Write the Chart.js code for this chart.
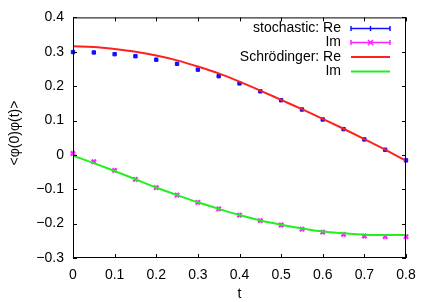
<!DOCTYPE html>
<html>
<head>
<meta charset="utf-8">
<script src="https://cdn.jsdelivr.net/npm/chart.js@4"></script>
<style>
  html, body { margin: 0; padding: 0; background: #fff; }
  #chart { display: block; }
</style>
</head>
<body>
<canvas id="chart" width="431" height="302"></canvas>
<script>
// time grid (same for both methods)
const tValues = [0, 0.05, 0.1, 0.15, 0.2, 0.25, 0.3, 0.35, 0.4, 0.45, 0.5, 0.55, 0.6, 0.65, 0.7, 0.75, 0.8];

// stochastic estimates
const stochRe = [0.299, 0.298, 0.293, 0.287, 0.277, 0.265, 0.248, 0.229, 0.208, 0.185, 0.159, 0.132, 0.103, 0.075, 0.045, 0.015, -0.016];
const stochIm = [0.004, -0.020, -0.045, -0.071, -0.095, -0.117, -0.138, -0.157, -0.175, -0.191, -0.204, -0.216, -0.225, -0.231, -0.236, -0.238, -0.238];

// Schrödinger (exact) curves
const schrRe = [0.316, 0.314, 0.308, 0.300, 0.289, 0.275, 0.257, 0.237, 0.213, 0.187, 0.160, 0.133, 0.105, 0.076, 0.046, 0.015, -0.017];
const schrIm = [-0.002, -0.024, -0.047, -0.071, -0.095, -0.117, -0.138, -0.157, -0.175, -0.191, -0.203, -0.214, -0.223, -0.228, -0.232, -0.233, -0.233];

const xTicks = [0, 0.1, 0.2, 0.3, 0.4, 0.5, 0.6, 0.7, 0.8];
const yTicks = [-0.3, -0.2, -0.1, 0, 0.1, 0.2, 0.3, 0.4];

const legendLabels = ["stochastic: Re", "Im", "Schrödinger: Re", "Im"];
const seriesColors = ["#1010ff", "#ff20ff", "#ff2020", "#20f020"];

const FONT = "Liberation Sans, Arial, sans-serif";

function toPoints(xs, ys) {
  return xs.map((x, i) => ({ x: x, y: ys[i] }));
}

function fmt(v) {
  if (Math.abs(v) < 1e-9) return "0";
  return v.toFixed(1).replace("-", "\u2212");
}

// frame with inward ticks on all four sides, axis titles, key
const framePlugin = {
  id: "frame",
  afterDatasetsDraw(chart) {
    const ctx = chart.ctx;
    const a = chart.chartArea;
    const xs = chart.scales.x;
    const ys = chart.scales.y;
    const tick = 4;
    ctx.save();
    ctx.strokeStyle = "#000";
    ctx.lineWidth = 1;
    ctx.beginPath();
    xTicks.forEach(v => {
      const px = Math.round(xs.getPixelForValue(v)) + 0.5;
      ctx.moveTo(px, a.bottom); ctx.lineTo(px, a.bottom - tick);
      ctx.moveTo(px, a.top); ctx.lineTo(px, a.top + tick);
    });
    yTicks.forEach(v => {
      const py = Math.round(ys.getPixelForValue(v)) + 0.5;
      ctx.moveTo(a.left, py); ctx.lineTo(a.left + tick, py);
      ctx.moveTo(a.right, py); ctx.lineTo(a.right - tick, py);
    });
    ctx.stroke();
    ctx.strokeRect(a.left + 0.5, a.top + 0.5, a.right - a.left - 1, a.bottom - a.top - 1);

    // axis titles
    ctx.fillStyle = "#000";
    ctx.font = "14px " + FONT;
    ctx.textAlign = "center";
    ctx.textBaseline = "middle";
    ctx.fillText("t", (a.left + a.right) / 2, 294);
    ctx.save();
    ctx.translate(15, 133);
    ctx.rotate(-Math.PI / 2);
    ctx.fillText("<\u03c6(0)\u03c6(t)>", 0, 0);
    ctx.restore();

    // key
    const keyY = [28.5, 42.5, 57, 71.5];
    const x0 = 351, x1 = 390, textX = 341;
    ctx.textAlign = "right";
    legendLabels.forEach((label, i) => {
      const y = keyY[i];
      ctx.fillStyle = "#000";
      ctx.fillText(label, textX, y);
      ctx.strokeStyle = seriesColors[i];
      ctx.lineWidth = i < 2 ? 1.5 : 2;
      ctx.beginPath();
      ctx.moveTo(x0, y); ctx.lineTo(x1, y);
      if (i < 2) {
        ctx.moveTo(x0, y - 2.5); ctx.lineTo(x0, y + 2.5);
        ctx.moveTo(x1, y - 2.5); ctx.lineTo(x1, y + 2.5);
      }
      ctx.stroke();
      const mx = (x0 + x1) / 2;
      ctx.lineWidth = 1.5;
      ctx.beginPath();
      if (i === 0) {
        ctx.moveTo(mx, y - 2.5); ctx.lineTo(mx, y + 2.5);
      } else if (i === 1) {
        ctx.moveTo(mx - 2.5, y - 2.5); ctx.lineTo(mx + 2.5, y + 2.5);
        ctx.moveTo(mx - 2.5, y + 2.5); ctx.lineTo(mx + 2.5, y - 2.5);
      }
      ctx.stroke();
    });
    ctx.restore();
  }
};

new Chart(document.getElementById("chart"), {
  type: "line",
  data: {
    datasets: [
      {
        label: legendLabels[0],
        data: toPoints(tValues, stochRe),
        showLine: false,
        pointStyle: "rect",
        pointRadius: 2.4,
        pointBackgroundColor: seriesColors[0],
        pointBorderColor: seriesColors[0],
        pointBorderWidth: 1,
        clip: false,
        order: 2
      },
      {
        label: legendLabels[1],
        data: toPoints(tValues, stochIm),
        showLine: false,
        pointStyle: "crossRot",
        pointRadius: 3,
        pointBorderColor: seriesColors[1],
        pointBorderWidth: 2.2,
        clip: false,
        order: 2
      },
      {
        label: legendLabels[2],
        data: toPoints(tValues, schrRe),
        borderColor: seriesColors[2],
        borderWidth: 2,
        pointRadius: 0,
        cubicInterpolationMode: "monotone",
        order: 1
      },
      {
        label: legendLabels[3],
        data: toPoints(tValues, schrIm),
        borderColor: seriesColors[3],
        borderWidth: 2,
        pointRadius: 0,
        cubicInterpolationMode: "monotone",
        order: 1
      }
    ]
  },
  options: {
    responsive: false,
    animation: false,
    devicePixelRatio: 1,
    layout: { padding: { top: 17, right: 25, left: 0, bottom: 0 } },
    plugins: {
      legend: { display: false },
      tooltip: { enabled: false }
    },
    scales: {
      x: {
        type: "linear",
        min: 0,
        max: 0.8,
        afterBuildTicks: s => { s.ticks = xTicks.map(v => ({ value: v })); },
        afterFit: s => { s.height = 44; },
        border: { display: false },
        grid: { display: false, drawTicks: false },
        ticks: {
          padding: 9,
          color: "#000",
          font: { family: FONT, size: 14 },
          maxRotation: 0,
          callback: v => fmt(v)
        }
      },
      y: {
        type: "linear",
        min: -0.3,
        max: 0.4,
        afterBuildTicks: s => { s.ticks = yTicks.map(v => ({ value: v })); },
        afterFit: s => { s.width = 73; },
        border: { display: false },
        grid: { display: false, drawTicks: false },
        ticks: {
          padding: 9,
          color: "#000",
          font: { family: FONT, size: 14 },
          callback: v => fmt(v)
        }
      }
    }
  },
  plugins: [framePlugin]
});
</script>
</body>
</html>
